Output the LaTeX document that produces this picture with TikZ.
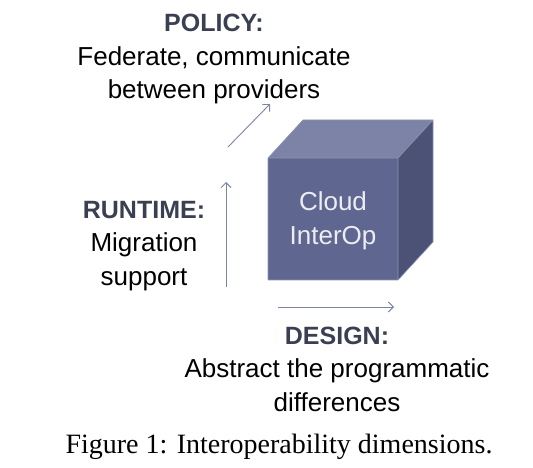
\documentclass[tikz,border=0pt]{standalone}
\usepackage{fontspec}
\setmainfont{Liberation Serif}
\newfontfamily\arialf{Liberation Sans}
\usetikzlibrary{arrows.meta}
\definecolor{frontc}{HTML}{5F6790}
\definecolor{topc}{HTML}{7C83A6}
\definecolor{sidec}{HTML}{4B5276}
\definecolor{edgec}{HTML}{8D93B0}
\definecolor{arrowc}{HTML}{7D84A0}
\definecolor{titlec}{HTML}{3A3F52}
\newcommand{\ttl}[1]{{\fontsize{25}{34}\selectfont\bfseries\color{titlec}#1}}
\tikzset{
  lbl/.style={align=center, font=\arialf\fontsize{26}{33.5}\selectfont, inner sep=0pt},
  dimarrow/.style={draw=arrowc, line width=0.9pt, -{Straight Barb[length=5pt,width=10pt]}},
}
\begin{document}
\begin{tikzpicture}[x=1pt,y=-1pt]
\useasboundingbox (0,0) rectangle (533,468);
% cube
\coordinate (fa) at (268,158);
\coordinate (fb) at (398,158);
\coordinate (fc) at (398,280);
\coordinate (fd) at (268,280);
\coordinate (ba) at (303,120);
\coordinate (bb) at (433,120);
\coordinate (bc) at (433,242);
\fill[topc] (fa) -- (ba) -- (bb) -- (fb) -- cycle;
\fill[sidec] (fb) -- (bb) -- (bc) -- (fc) -- cycle;
\fill[frontc] (fa) -- (fb) -- (fc) -- (fd) -- cycle;
\draw[edgec, line width=0.6pt, line join=round] (fa) -- (ba) -- (bb) -- (bc) -- (fc) -- (fd) -- cycle (fa) -- (fb) -- (fc) (fb) -- (bb);
\node[lbl, text=white!88!frontc] (cube) at (333,221) {Cloud\\InterOp};
% arrows
\coordinate (v0) at (226,287);
\coordinate (v1) at (226,182);
\coordinate (d0) at (228,147);
\coordinate (d1) at (270,104);
\coordinate (h0) at (278,307);
\coordinate (h1) at (394,307);
\draw[dimarrow] (v0) -- (v1);
\draw[dimarrow] (d0) -- (d1);
\draw[dimarrow] (h0) -- (h1);
% labels
\node[lbl] (policy) at (214,59) {\ttl{POLICY:}\\Federate, communicate\\between providers};
\node[lbl] (runtime) at (144,246) {\ttl{RUNTIME:}\\Migration\\support};
\node[lbl] (design) at (337,369) {\ttl{DESIGN:}\\Abstract the programmatic\\differences};
\node[font=\fontsize{28}{32}\selectfont, inner sep=0pt] (caption) at (279,447) {Figure 1: Interoperability dimensions.};
\end{tikzpicture}
\end{document}
